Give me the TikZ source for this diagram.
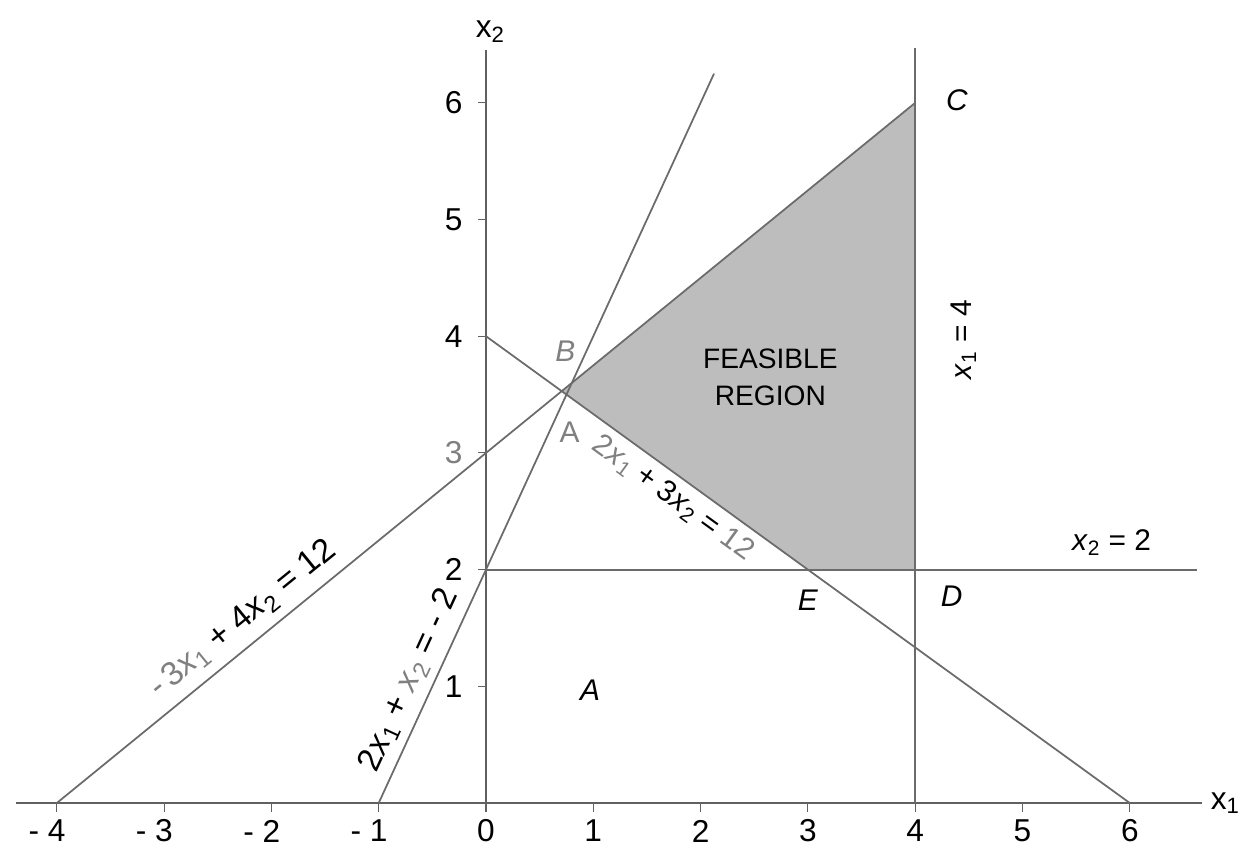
\documentclass[tikz,border=0pt]{standalone}
\usepackage{fontspec}
\setmainfont{Liberation Sans}
\usepackage{tikz}

\newcommand{\xs}[1]{\textit{x}\textsubscript{#1}}

\begin{document}
\begin{tikzpicture}[x=2.146cm, y=2.334cm, every node/.style={font=\fontsize{17}{19}\selectfont}]
    \tikzset{
        axisline/.style={draw=black!62, line width=1.1pt},
        conline/.style={draw=black!58, line width=1pt},
        ticklabel/.style={font=\fontsize{18}{20}\selectfont},
        eqlabel/.style={font=\fontsize{19}{21}\selectfont},
        faint/.style={text=black!50},
    }
    \useasboundingbox (-4.529,-0.42) rectangle (7.064,6.881);

    % Corner points of the region
    \coordinate (B) at (12/17, 60/17);
    \coordinate (C) at (4, 6);
    \coordinate (D) at (4, 2);
    \coordinate (E) at (3, 2);

    % Feasible region
    \fill[black!26] (B) -- (C) -- (D) -- (E) -- cycle;

    % Axes
    \draw[axisline] (-4.38, 0) -- (6.67, 0);
    \draw[axisline] (0, 0) -- (0, 6.45);
    \foreach \i in {-4,...,6} {
        \draw[axisline, line width=0.6pt] (\i, 0) -- (\i, -0.08);
    }
    \foreach \j in {1,...,6} {
        \draw[axisline, line width=0.6pt] (0, \j) -- (-0.07, \j);
    }
    \foreach \i in {1,...,4} {
        \node[ticklabel] (xl-\i) at (-\i, -0.24) {\llap{- }\i};
    }
    \foreach \i in {0,...,6} {
        \node[ticklabel] (xl\i) at (\i, -0.24) {\i};
    }
    \foreach \j in {1,2,4,5,6} {
        \node[ticklabel] (yl\j) at (-0.3, \j) {\j};
    }
    \node[ticklabel, faint] (yl3) at (-0.3, 3) {3};
    \node[ticklabel] (xlab) at (6.89, 0) {x\textsubscript{1}};
    \node[ticklabel] (ylab) at (0.04, 6.61) {x\textsubscript{2}};

    % Constraint lines
    \coordinate (p1) at (-4, 0);
    \coordinate (p2) at (0, 4);
    \coordinate (p3) at (6, 0);
    \coordinate (p4) at (-1, 0);
    \coordinate (p5) at (2.125, 6.25);
    \coordinate (p6) at (0, 2);
    \coordinate (p7) at (6.63, 2);
    \coordinate (p8) at (4, 0);
    \coordinate (p9) at (4, 6.47);
    \draw[conline] (p1) -- (C)
        node[eqlabel, pos=0.235, sloped, above=2pt] (l1) {\textcolor{black!50}{-\,3\xs{1}} + 4\xs{2} = 12};
    \draw[conline] (p2) -- (p3)
        node[pos=0.31, sloped, below=1pt] (l2) {\textcolor{black!50}{2\xs{1}} + 3\xs{2} = \textcolor{black!50}{12}};
    \draw[conline] (p4) -- (p5)
        node[eqlabel, pos=0.155, sloped, above=1pt] (l3) {2\xs{1} + \textcolor{black!50}{\xs{2}} = - 2};
    \draw[conline] (p6) -- (p7);
    \draw[conline] (p8) -- (p9);
    \node (l4) at (4.45, 3.97) [rotate=90] {\xs{1} = 4};
    \node (l5) at (5.83, 2.23) {\xs{2} = 2};

    % Point labels
    \node[faint] (lB) at (0.74, 3.87) {\textit{B}};
    \node[faint] (lA) at (0.78, 3.18) {A};
    \node (lC) at (4.39, 6.02) {\textit{C}};
    \node (lD) at (4.34, 1.77) {\textit{D}};
    \node (lE) at (3.0, 1.74) {\textit{E}};
    \node (lA2) at (0.97, 0.97) {\textit{A}};
    \node[align=center, font=\fontsize{16}{21}\selectfont] (feas) at (2.65, 3.65) {FEASIBLE\\REGION};
\end{tikzpicture}
\end{document}
